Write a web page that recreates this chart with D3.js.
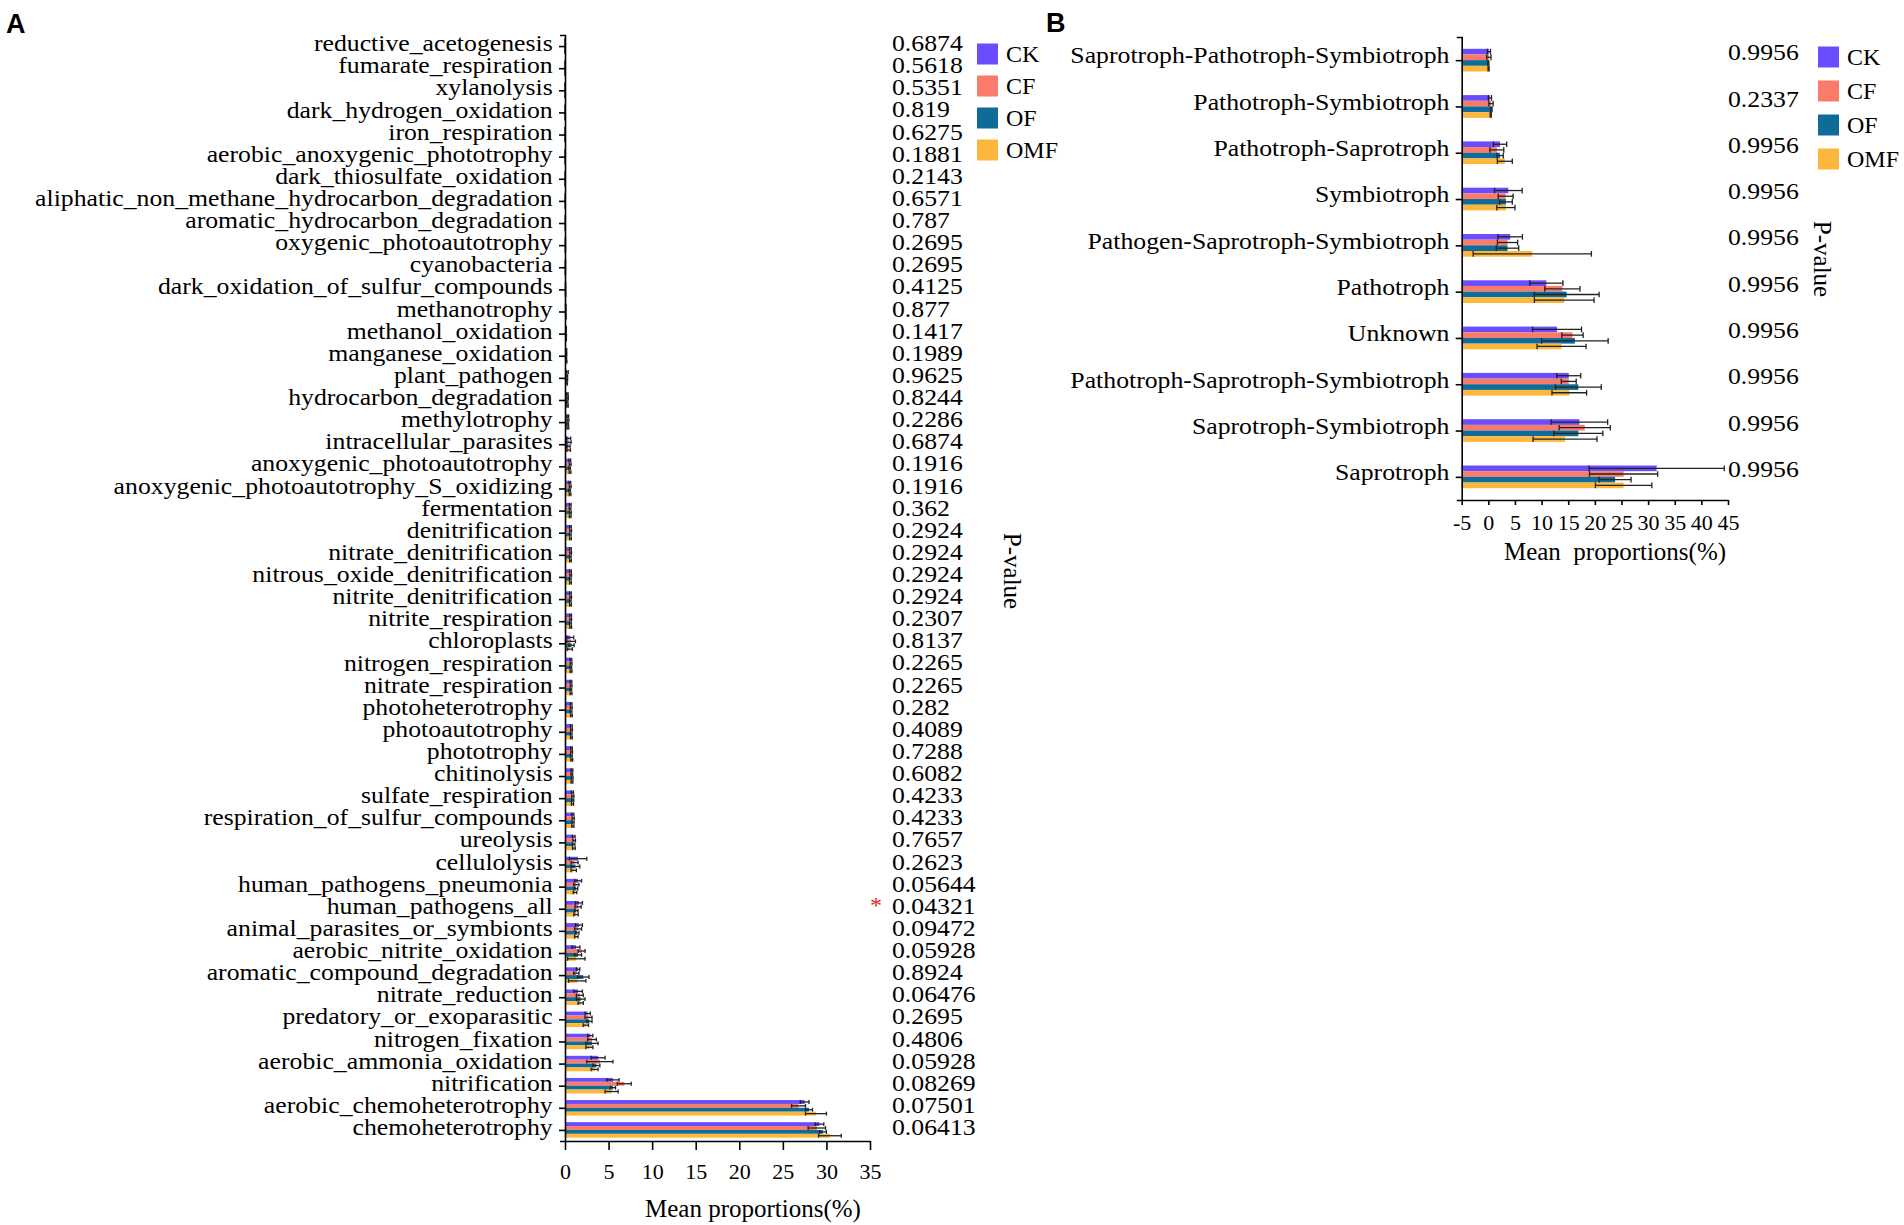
<!DOCTYPE html>
<meta charset="utf-8">
<style>
    body { margin: 0; background: #fff; }
    svg text { font-family: "Liberation Serif", "Times New Roman", serif; fill: #000; }
    .tag { font-family: "Liberation Sans", Arial, sans-serif; font-weight: bold; }
    .axis path, .axis line { stroke: #000; stroke-width: 1.6; }
</style>
<svg width="1904" height="1225"></svg>
<script src="https://d3js.org/d3.v7.min.js"></script>
<script>
var groups = ["CK", "CF", "OF", "OMF"];
var colors = ["#6a4dff", "#fa7b69", "#0f6b97", "#fdb73c"];

// panel A: FAPROTAX functions
var funcNames = ["reductive_acetogenesis", "fumarate_respiration", "xylanolysis", "dark_hydrogen_oxidation",
    "iron_respiration", "aerobic_anoxygenic_phototrophy", "dark_thiosulfate_oxidation",
    "aliphatic_non_methane_hydrocarbon_degradation", "aromatic_hydrocarbon_degradation",
    "oxygenic_photoautotrophy", "cyanobacteria", "dark_oxidation_of_sulfur_compounds", "methanotrophy",
    "methanol_oxidation", "manganese_oxidation", "plant_pathogen", "hydrocarbon_degradation", "methylotrophy",
    "intracellular_parasites", "anoxygenic_photoautotrophy", "anoxygenic_photoautotrophy_S_oxidizing",
    "fermentation", "denitrification", "nitrate_denitrification", "nitrous_oxide_denitrification",
    "nitrite_denitrification", "nitrite_respiration", "chloroplasts", "nitrogen_respiration",
    "nitrate_respiration", "photoheterotrophy", "photoautotrophy", "phototrophy", "chitinolysis",
    "sulfate_respiration", "respiration_of_sulfur_compounds", "ureolysis", "cellulolysis",
    "human_pathogens_pneumonia", "human_pathogens_all", "animal_parasites_or_symbionts",
    "aerobic_nitrite_oxidation", "aromatic_compound_degradation", "nitrate_reduction",
    "predatory_or_exoparasitic", "nitrogen_fixation", "aerobic_ammonia_oxidation", "nitrification",
    "aerobic_chemoheterotrophy", "chemoheterotrophy"];
var funcCK  = [.005, .008, .01, .012, .015, .02, .022, .03, .035, .045, .045, .06, .08, .12, .15, .25, .28, .32, .4, .55,
    .55, .6, .62, .62, .62, .62, .64, .6, .68, .68, .7, .72, .74, .8, .85, .9, 1.0, 1.5, 1.5, 1.6,
    1.6, 1.26, 1.5, 1.5, 2.6, 2.9, 3.8, 5.5, 27.5, 29.2];
var funcCF  = [.006, .01, .012, .01, .018, .018, .025, .028, .032, .04, .04, .065, .09, .11, .16, .2, .3, .35, .45, .6,
    .6, .58, .65, .65, .65, .65, .66, .7, .7, .7, .72, .75, .76, .78, .9, .95, 1.05, 1.1, 1.3, 1.5,
    1.5, 1.9, 1.3, 1.7, 2.7, 3.1, 4.0, 6.8, 26.8, 28.9];
var funcOF  = [.004, .007, .009, .011, .014, .022, .02, .032, .036, .05, .05, .058, .085, .13, .14, .22, .26, .3, .38, .52,
    .52, .62, .6, .6, .6, .6, .62, .75, .66, .66, .68, .7, .72, .82, .88, .92, .98, 1.2, 1.26, 1.3,
    1.4, 1.5, 2.1, 1.8, 2.8, 3.1, 3.6, 5.5, 28.0, 29.6];
var funcOMF = [.005, .009, .011, .013, .016, .02, .024, .03, .034, .042, .042, .07, .1, .12, .17, .18, .29, .33, .42, .58,
    .58, .6, .63, .63, .63, .63, .65, .55, .7, .7, .74, .74, .78, .8, .86, .9, 1.02, 1.0, 1.15, 1.26,
    1.3, 1.3, 1.4, 1.8, 2.4, 2.8, 3.4, 5.35, 28.8, 30.4];
var funcCKsd  = [.003, .004, .005, .005, .006, .008, .008, .01, .01, .015, .015, .02, .03, .04, .05, .12, .08, .1, .25, .1,
    .1, .1, .1, .1, .1, .1, .1, .4, .1, .1, .1, .1, .1, .1, .12, .12, .15, 1.0, .4, .4,
    .4, .45, .2, .5, .3, .3, .8, .7, .5, .5];
var funcCFsd  = [.003, .004, .005, .005, .006, .008, .008, .01, .01, .015, .015, .02, .03, .04, .05, .1, .08, .1, .25, .1,
    .1, .1, .1, .1, .1, .1, .1, .5, .1, .1, .1, .1, .1, .1, .12, .12, .15, .4, .3, .35,
    .4, .4, .3, .4, .4, .5, 1.5, .8, .8, 1.0];
var funcOFsd  = [.003, .004, .005, .005, .006, .008, .008, .01, .01, .015, .015, .02, .03, .04, .05, .08, .08, .1, .2, .1,
    .1, .1, .1, .1, .1, .1, .1, .3, .1, .1, .1, .1, .1, .1, .12, .12, .15, .5, .2, .2,
    .2, .4, .65, .5, .3, .7, .4, .3, .4, .4];
var funcOMFsd = [.003, .004, .005, .005, .006, .008, .008, .01, .01, .015, .015, .02, .03, .04, .05, .1, .08, .1, .2, .1,
    .1, .1, .1, .1, .1, .1, .1, .3, .1, .1, .1, .1, .1, .1, .12, .12, .15, .3, .2, .25,
    .2, 1.0, 1.0, .3, .3, .4, .4, .75, 1.2, 1.3];
var funcP = ["0.6874", "0.5618", "0.5351", "0.819", "0.6275", "0.1881", "0.2143", "0.6571", "0.787", "0.2695",
    "0.2695", "0.4125", "0.877", "0.1417", "0.1989", "0.9625", "0.8244", "0.2286", "0.6874", "0.1916",
    "0.1916", "0.362", "0.2924", "0.2924", "0.2924", "0.2924", "0.2307", "0.8137", "0.2265", "0.2265",
    "0.282", "0.4089", "0.7288", "0.6082", "0.4233", "0.4233", "0.7657", "0.2623", "0.05644", "0.04321",
    "0.09472", "0.05928", "0.8924", "0.06476", "0.2695", "0.4806", "0.05928", "0.08269", "0.07501", "0.06413"];

// panel B: FUNGuild trophic modes
var guildNames = ["Saprotroph-Pathotroph-Symbiotroph", "Pathotroph-Symbiotroph", "Pathotroph-Saprotroph",
    "Symbiotroph", "Pathogen-Saprotroph-Symbiotroph", "Pathotroph", "Unknown",
    "Pathotroph-Saprotroph-Symbiotroph", "Saprotroph-Symbiotroph", "Saprotroph"];
var guildCK  = [0.1, 0.3, 2.2, 3.75, 4.1, 10.9, 12.9, 15.1, 17.1, 31.6];
var guildCF  = [0.1, 0.5, 1.6, 3.25, 3.6, 13.9, 15.8, 15.1, 18.1, 25.4];
var guildOF  = [0.0, 0.6, 2.2, 3.3, 3.6, 14.7, 16.25, 16.9, 16.9, 23.8];
var guildOMF = [0.05, 0.45, 3.1, 3.3, 8.25, 14.25, 13.75, 15.2, 14.4, 25.4];
var guildCKsd  = [0.3, 0.3, 1.25, 2.6, 2.3, 3.1, 4.6, 2.25, 5.3, 12.7];
var guildCFsd  = [0.4, 0.4, 1.3, 1.4, 1.9, 3.3, 2.0, 1.4, 4.8, 6.4];
var guildOFsd  = [0.1, 0.1, 0.6, 1.2, 2.1, 6.1, 6.25, 4.3, 4.6, 3.0];
var guildOMFsd = [0.1, 0.1, 1.4, 1.7, 11.1, 5.6, 4.6, 3.25, 6.0, 5.3];
var guildP = ["0.9956", "0.2337", "0.9956", "0.9956", "0.9956", "0.9956", "0.9956", "0.9956", "0.9956", "0.9956"];

var svg = d3.select("svg");

function drawPanel(cfg) {
    var g = svg.append("g");
    var y = d3.scalePoint().domain(cfg.names).range(cfg.yRange).padding(0.5);
    var inner = d3.scaleBand().domain(groups).range([-cfg.groupH / 2, cfg.groupH / 2]);
    var x = d3.scaleLinear().domain(cfg.xDomain).range(cfg.xRange);
    var x0 = x(cfg.xDomain[0]);

    var rows = cfg.names.map(function (n, i) {
        return {
            name: n, p: cfg.p[i],
            vals: groups.map(function (s, j) {
                return { s: s, j: j, v: cfg.means[j][i], e: cfg.sds[j][i] };
            })
        };
    });

    var row = g.selectAll(".row").data(rows).enter().append("g")
        .attr("transform", function (d) { return "translate(0," + y(d.name) + ")"; });

    row.selectAll("rect").data(function (d) { return d.vals; }).enter().append("rect")
        .attr("x", x0)
        .attr("y", function (d) { return inner(d.s); })
        .attr("width", function (d) { return Math.max(0, x(d.v) - x0); })
        .attr("height", inner.bandwidth())
        .attr("fill", function (d) { return colors[d.j]; });

    var err = row.selectAll(".err").data(function (d) { return d.vals; }).enter().append("g")
        .attr("transform", function (d) { return "translate(0," + (inner(d.s) + inner.bandwidth() / 2) + ")"; })
        .attr("stroke", "#222").attr("stroke-width", 1.3);
    var lo = function (d) { return Math.max(x0, x(d.v - d.e)); };
    var hi = function (d) { return x(d.v + d.e); };
    var cap = inner.bandwidth() / 2;
    err.append("line").attr("x1", lo).attr("x2", hi);
    err.append("line").attr("x1", lo).attr("x2", lo).attr("y1", -cap).attr("y2", cap);
    err.append("line").attr("x1", hi).attr("x2", hi).attr("y1", -cap).attr("y2", cap);

    // axes
    var yAx = g.append("g").attr("class", "axis")
        .attr("transform", "translate(" + x0 + ",0)")
        .call(d3.axisLeft(y).tickSize(6).tickSizeOuter(5).tickPadding(5));
    yAx.selectAll("text")
        .style("font-size", cfg.labelSize + "px")
        .attr("dy", cfg.labelDy)
        .attr("transform", "scale(" + cfg.stretch + ",1)");
    yAx.select(".domain").attr("stroke-width", 1.8);

    var xAx = g.append("g").attr("class", "axis")
        .attr("transform", "translate(0," + cfg.yRange[1] + ")")
        .call(d3.axisBottom(x).tickValues(cfg.ticks).tickSize(cfg.tickLen).tickSizeOuter(0)
            .tickPadding(cfg.tickPad).tickFormat(function (d) { return String(d); }));
    xAx.selectAll("text").style("font-size", "22px");
    xAx.select(".domain").attr("stroke-width", 2);

    g.append("text")
        .attr("x", cfg.titleX).attr("y", cfg.titleY)
        .attr("text-anchor", "middle")
        .style("font-size", "25px")
        .style("white-space", "pre")
        .text(cfg.title);

    // p-values
    g.selectAll(".pv").data(rows).enter().append("text")
        .attr("transform", function (d) {
            return "translate(" + cfg.pX + "," + (y(d.name) + cfg.pDy) + ") scale(" + cfg.stretch + ",1)";
        })
        .attr("dy", "0.35em")
        .style("font-size", cfg.labelSize + "px")
        .text(function (d) { return d.p; });

    g.selectAll(".sig").data(rows.filter(function (d) { return +d.p < 0.05; })).enter().append("text")
        .attr("x", cfg.pX - 10)
        .attr("y", function (d) { return y(d.name) - 4; })
        .attr("text-anchor", "end")
        .attr("dy", "0.35em")
        .style("font-size", "24px")
        .style("fill", "#e0262b")
        .text("*");

    g.append("text")
        .attr("transform", "translate(" + cfg.pLabel[0] + "," + cfg.pLabel[1] + ") rotate(90)")
        .attr("text-anchor", "middle")
        .style("font-size", "25px")
        .text("P-value");

    // legend
    var leg = g.selectAll(".leg").data(groups).enter().append("g")
        .attr("transform", function (d, i) { return "translate(" + cfg.legend[0] + "," + (cfg.legend[1] + i * cfg.legend[2]) + ")"; });
    leg.append("rect").attr("x", 0).attr("y", -10.5).attr("width", 21).attr("height", 21)
        .attr("fill", function (d, i) { return colors[i]; });
    leg.append("text").attr("x", 29).attr("dy", "0.35em").style("font-size", "24px")
        .text(function (d) { return d; });

    g.append("text").attr("class", "tag")
        .attr("x", cfg.tag[0]).attr("y", cfg.tag[1])
        .style("font-size", "27px")
        .text(cfg.tagText);
}

drawPanel({
    names: funcNames,
    means: [funcCK, funcCF, funcOF, funcOMF],
    sds: [funcCKsd, funcCFsd, funcOFsd, funcOMFsd],
    p: funcP,
    xDomain: [0, 35], xRange: [565, 870], ticks: d3.range(0, 36, 5),
    yRange: [35, 1141], groupH: 15.5,
    labelSize: 23, stretch: 1.12, labelDy: "0.2em",
    tickLen: 9, tickPad: 13,
    title: "Mean proportions(%)", titleX: 753, titleY: 1217,
    pX: 892, pDy: -3, pLabel: [1004, 571],
    legend: [977, 54, 32],
    tag: [6, 33], tagText: "A"
});

drawPanel({
    names: guildNames,
    means: [guildCK, guildCF, guildOF, guildOMF],
    sds: [guildCKsd, guildCFsd, guildOFsd, guildOMFsd],
    p: guildP,
    xDomain: [-5, 45], xRange: [1461.7, 1728], ticks: d3.range(-5, 46, 5),
    yRange: [37, 500], groupH: 22.7,
    labelSize: 23, stretch: 1.12, labelDy: "0.12em",
    tickLen: 5, tickPad: 9,
    title: "Mean  proportions(%)", titleX: 1615, titleY: 560,
    pX: 1728, pDy: -8, pLabel: [1814, 259],
    legend: [1818, 57, 34],
    tag: [1046, 32], tagText: "B"
});
</script>
